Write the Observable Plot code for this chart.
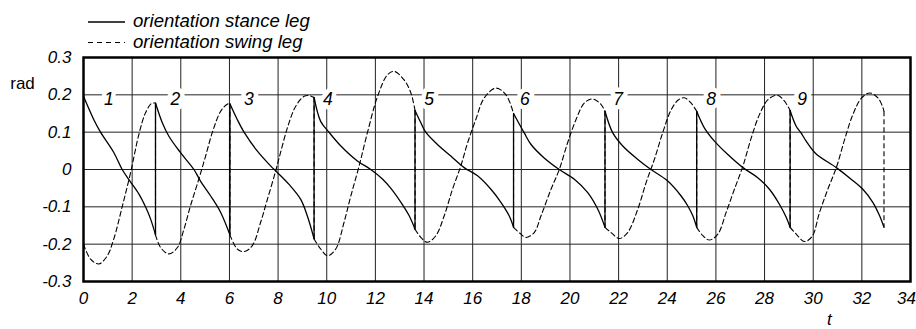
<!DOCTYPE html>
<html><head><meta charset="utf-8">
<script src="https://cdn.jsdelivr.net/npm/d3@7"></script>
<script src="https://cdn.jsdelivr.net/npm/@observablehq/plot@0.6"></script>
<style>
body{margin:0;background:#fff;}
#wrap{position:relative;width:916px;height:329px;font-family:"Liberation Sans",Arial,Helvetica,sans-serif;background:#fff;}
#legend{position:absolute;left:0;top:0;width:916px;height:56px;z-index:2;}
#legend svg{display:block;overflow:visible;}
#chart{position:absolute;left:0;top:50px;}
#chart svg{display:block;}
</style></head><body>
<div id="wrap"><div id="chart"></div><div id="legend"></div></div>
<script>
// ---------- data ----------
const seriesNames = ["orientation stance leg", "orientation swing leg"];
const xTicks = [0, 2, 4, 6, 8, 10, 12, 14, 16, 18, 20, 22, 24, 26, 28, 30, 32, 34];
const yTicks = [-0.3, -0.2, -0.1, 0, 0.1, 0.2, 0.3];
const yTickLabels = ["-0.3", "-0.2", "-0.1", "0", "0.1", "0.2", "0.3"];
const yUnit = "rad";
const xUnit = "t";
const xUnitAt = 30.66;
const stepLabels = ["1", "2", "3", "4", "5", "6", "7", "8", "9"];
const stepLabelT = [1.04, 3.78, 6.8, 10.05, 14.21, 18.15, 21.98, 25.8, 29.54];
const stepLabelY = 0.187;

// stance leg orientation, one array per step: [t, rad]
const stance = [
  [[0,0.196],[0.42,0.134],[0.70,0.1],[1.25,0.045],[1.59,0],[1.91,-0.031],[2.28,-0.066],[2.55,-0.1],[2.76,-0.133],[2.96,-0.175]],
  [[2.96,0.178],[3.24,0.125],[3.51,0.089],[3.99,0.045],[4.54,0],[4.81,-0.031],[5.23,-0.071],[5.64,-0.115],[6.02,-0.175]],
  [[6.02,0.176],[6.32,0.134],[6.6,0.1],[7.15,0.049],[7.70,0.009],[7.97,-0.008],[8.45,-0.04],[8.93,-0.08],[9.2,-0.124],[9.48,-0.186]],
  [[9.48,0.193],[9.75,0.129],[10.09,0.1],[10.58,0.063],[11.26,0.023],[11.81,0],[12.3,-0.026],[12.63,-0.05],[13.05,-0.088],[13.39,-0.124],[13.63,-0.16]],
  [[13.63,0.158],[13.87,0.125],[14.07,0.1],[14.55,0.067],[15.1,0.036],[15.65,0.005],[16.2,-0.017],[16.75,-0.053],[17.16,-0.088],[17.5,-0.124],[17.68,-0.155]],
  [[17.68,0.15],[18.12,0.098],[18.4,0.067],[18.94,0.031],[19.56,0],[20.18,-0.026],[20.73,-0.062],[21.14,-0.106],[21.44,-0.155]],
  [[21.44,0.156],[21.76,0.098],[22.17,0.063],[22.79,0.027],[23.33,0],[24.02,-0.031],[24.57,-0.071],[24.84,-0.097],[25.05,-0.124],[25.21,-0.155]],
  [[25.21,0.156],[25.53,0.111],[25.94,0.076],[26.49,0.04],[27.11,0.005],[27.72,-0.022],[28.2,-0.053],[28.61,-0.093],[28.89,-0.128],[29.05,-0.155]],
  [[29.05,0.158],[29.3,0.116],[29.5,0.098],[29.71,0.076],[30.1,0.043],[30.95,0.005],[31.56,-0.026],[32.04,-0.053],[32.45,-0.088],[32.73,-0.124],[32.91,-0.155]]
];

// swing leg orientation, one array per step: [t, rad]
const swing = [
  [[0,-0.2],[0.29,-0.24],[0.63,-0.253],[0.97,-0.232],[1.25,-0.185],[1.59,-0.1],[1.93,-0.01],[2.28,0.095],[2.55,0.152],[2.8,0.177],[2.96,0.178]],
  [[2.96,-0.175],[3.17,-0.209],[3.51,-0.226],[3.86,-0.209],[4.13,-0.16],[4.40,-0.097],[4.74,-0.026],[5.02,0.036],[5.30,0.1],[5.64,0.156],[5.91,0.175],[6.02,0.176]],
  [[6.02,-0.175],[6.32,-0.213],[6.6,-0.22],[6.94,-0.204],[7.28,-0.142],[7.56,-0.08],[7.90,-0.004],[8.1,0.045],[8.38,0.111],[8.72,0.169],[9.07,0.196],[9.27,0.198],[9.48,0.193]],
  [[9.48,-0.186],[9.75,-0.213],[10.03,-0.231],[10.37,-0.213],[10.71,-0.142],[10.99,-0.071],[11.33,0.009],[11.67,0.098],[12.09,0.196],[12.5,0.254],[12.77,0.263],[13.18,0.24],[13.46,0.205],[13.63,0.158]],
  [[13.63,-0.16],[13.87,-0.182],[14.14,-0.195],[14.49,-0.177],[14.83,-0.124],[15.17,-0.053],[15.51,0.009],[15.79,0.071],[16.13,0.134],[16.47,0.191],[16.95,0.218],[17.37,0.2],[17.68,0.15]],
  [[17.68,-0.155],[17.98,-0.173],[18.19,-0.182],[18.53,-0.169],[18.81,-0.124],[19.22,-0.053],[19.56,0],[19.9,0.071],[20.25,0.134],[20.59,0.178],[20.93,0.189],[21.28,0.174],[21.44,0.156]],
  [[21.44,-0.155],[21.69,-0.169],[22.03,-0.185],[22.37,-0.169],[22.79,-0.106],[23.13,-0.035],[23.47,0.027],[23.81,0.098],[24.16,0.16],[24.45,0.186],[24.7,0.192],[24.98,0.178],[25.21,0.156]],
  [[25.21,-0.155],[25.46,-0.177],[25.73,-0.189],[26.08,-0.173],[26.42,-0.115],[26.76,-0.053],[27.11,0.009],[27.43,0.08],[27.79,0.147],[28.14,0.187],[28.52,0.199],[28.82,0.183],[29.05,0.158]],
  [[29.05,-0.155],[29.3,-0.173],[29.64,-0.193],[29.95,-0.18],[30.26,-0.115],[30.6,-0.053],[30.95,0.005],[31.29,0.08],[31.63,0.147],[31.98,0.191],[32.32,0.205],[32.67,0.191],[32.87,0.165],[32.91,0.156]]
];

// ---------- derived tables ----------
const toRows = (cycles) => cycles.flatMap((c, i) => c.map(([t, y]) => ({t, y, cycle: i})));
const stanceRows = toRows(stance);
const swingRows = toRows(swing);
const last = (c) => c[c.length - 1];
// at each heel strike the stance leg jumps up to the old swing angle...
const solidLinks = stance.slice(0, -1).map((c, i) => ({t: last(c)[0], y1: last(c)[1], y2: stance[i + 1][0][1]}));
// ...and the swing leg jumps down to the old stance angle
const dashLinks = swing.map((c, i) => ({t: last(c)[0], y1: last(c)[1], y2: last(stance[i])[1]}));
const labelRows = stepLabels.map((s, i) => ({t: stepLabelT[i], y: stepLabelY, s}));
const xTicksMain = xTicks.slice(0, -1);
const xTicksEnd = xTicks.slice(-1);

const FONT = '"Liberation Sans", Arial, Helvetica, sans-serif';
const DASH = "5,3";

// ---------- legend ----------
const leg = d3.select("#legend").append("svg").attr("width", 916).attr("height", 56)
  .style("font-family", FONT);
const legRows = [{y: 22, dash: null, name: seriesNames[0], w: 1.3}, {y: 42.5, dash: "5,4", name: seriesNames[1], w: 1.1}];
legRows.forEach(r => {
  leg.append("line").attr("x1", 88).attr("x2", 125).attr("y1", r.y).attr("y2", r.y)
    .attr("stroke", "#000").attr("stroke-width", r.w).attr("stroke-dasharray", r.dash);
  leg.append("text").attr("x", 133).attr("y", r.y + 5.2).attr("font-size", 18.6).attr("font-style", "italic")
    .attr("fill", "#000").text(r.name);
});

// ---------- chart ----------
const chart = Plot.plot({
  width: 916,
  height: 279,
  marginLeft: 83,
  marginRight: 6,
  marginTop: 7,
  marginBottom: 48,
  x: {domain: [0, 34]},
  y: {domain: [-0.3, 0.3]},
  style: {fontFamily: FONT, fontSize: "17px", fontStyle: "italic", color: "#000", background: "#fff", overflow: "visible"},
  marks: [
    Plot.gridX(xTicks, {stroke: "#222", strokeOpacity: 1, strokeWidth: 1}),
    Plot.gridY(yTicks, {stroke: "#222", strokeOpacity: 1, strokeWidth: 1}),
    Plot.line(swingRows, {x: "t", y: "y", z: "cycle", curve: "catmull-rom", stroke: "#000", strokeWidth: 1.1, strokeDasharray: DASH}),
    Plot.link(dashLinks, {x1: "t", x2: "t", y1: "y1", y2: "y2", stroke: "#000", strokeWidth: 1.1, strokeDasharray: DASH}),
    Plot.line(stanceRows, {x: "t", y: "y", z: "cycle", curve: "catmull-rom", stroke: "#000", strokeWidth: 1.3}),
    Plot.link(solidLinks, {x1: "t", x2: "t", y1: "y1", y2: "y2", stroke: "#000", strokeWidth: 1.3}),
    Plot.text(labelRows, {x: "t", y: "y", text: "s", fill: "#000", stroke: "#fff", strokeWidth: 9, fontSize: 17.5, fontStyle: "italic"}),
    Plot.frame({stroke: "#000", strokeWidth: 2.5}),
    Plot.axisX(xTicksMain, {tickSize: 0, tickPadding: 10, tickFormat: d => String(d), label: null}),
    Plot.axisX(xTicksEnd, {tickSize: 0, tickPadding: 10, tickFormat: d => String(d), label: null, dx: -4}),
    Plot.axisY(yTicks, {tickSize: 0, tickPadding: 12, tickFormat: d => yTickLabels[yTicks.indexOf(d)], label: null}),
    Plot.text([yUnit], {frameAnchor: "top-left", dx: -61, dy: 19, text: d => d, textAnchor: "middle", fontStyle: "normal", fontSize: 17, fill: "#000"}),
    Plot.text([xUnit], {x: () => xUnitAt, frameAnchor: "bottom", dy: 43, text: d => d, fontSize: 17, fill: "#000"})
  ]
});
document.getElementById("chart").appendChild(chart);
</script>
</body></html>
